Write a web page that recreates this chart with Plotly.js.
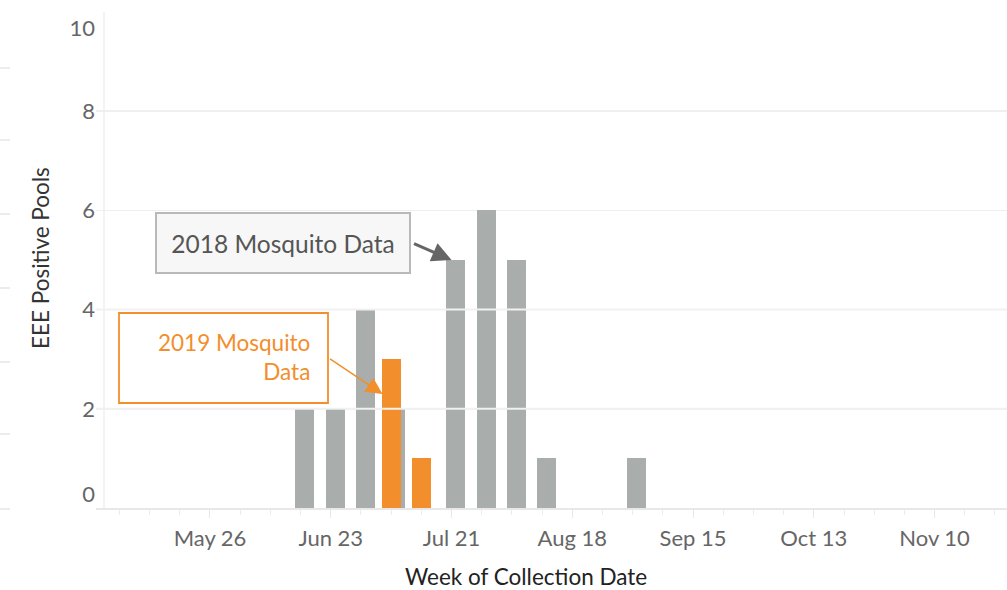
<!DOCTYPE html>
<html>
<head>
<meta charset="utf-8">
<script src="https://cdn.plot.ly/plotly-3.0.1.min.js"></script>
<style>html,body{margin:0;padding:0;background:#fff;}#chart{width:1007px;height:590px;}</style>
</head>
<body>
<div id="chart"></div>
<script>
// 2018 weekly collection dates (placed on the same month/day axis) and positive pools
const weeks2018 = ['2019-06-17','2019-06-24','2019-07-01','2019-07-08','2019-07-22','2019-07-29','2019-08-05','2019-08-12','2019-09-02'];
const pools2018 = [2, 2, 4, 2, 5, 6, 5, 1, 1];
// 2019 weekly collection dates and positive pools
const weeks2019 = ['2019-07-07','2019-07-14'];
const pools2019 = [3, 1];
// y tick labels
const yTickText = ['0','2','4','6','8','10'];

const DAY = 86400000;
const barW = 4.4 * DAY;
const FONT = 'Lato, "Open Sans", sans-serif';
const plotL = 96, plotW = 911, plotB = 508, plotH = 496;
const px = x => (x - plotL) / plotW;
const py = y => (plotB - y) / plotH;

const traces = [
  {type:'bar', x: weeks2018, y: pools2018, width: weeks2018.map(()=>barW),
   marker:{color:'#a9adac'}, hoverinfo:'skip', showlegend:false},
  {type:'bar', x: weeks2019, y: pools2019, width: weeks2019.map(()=>barW), yaxis:'y2',
   marker:{color:'#f28e2b'}, hoverinfo:'skip', showlegend:false}
];

const stubYs = [68,140,214,288,362,434,509];
const shapes = stubYs.map(y => ({type:'line', xref:'paper', yref:'paper', x0:px(0), x1:px(10), y0:py(y), y1:py(y),
  line:{color:'#ececec', width:2}}));
shapes.push({type:'line', xref:'paper', yref:'paper', x0:px(104), x1:px(104), y0:0, y1:1, line:{color:'#efefef', width:1.5}});
[2,4].forEach(v => shapes.push({type:'line', xref:'paper', yref:'y', x0:px(96), x1:1, y0:v, y1:v, layer:'above',
  line:{color:'#f1f1f1', width:2}}));
shapes.push({type:'rect', xref:'paper', yref:'paper', x0:px(119), x1:px(328), y0:py(403), y1:py(313),
  line:{color:'#f28e2b', width:1.8}, fillcolor:'#ffffff', layer:'above'});

const annotations = [
  {xref:'paper', yref:'paper', x:px(283), y:py(243.5), xanchor:'center', yanchor:'middle',
   text:'2018 Mosquito Data', showarrow:false, font:{family:FONT, size:24.5, color:'#555'},
   bgcolor:'#f7f7f7', bordercolor:'#b9b9b9', borderwidth:2, borderpad:0, width:252, height:58},
  {xref:'paper', yref:'paper', x:px(312), y:py(357), xanchor:'right', yanchor:'middle', align:'right',
   text:'2019 Mosquito<br>Data', showarrow:false, font:{family:FONT, size:22.5, color:'#f28e2b'}},
  {xref:'x', yref:'y', x:'2019-07-21', y:5, ax:-39, ay:-17, showarrow:true, arrowhead:2, arrowsize:1.3,
   arrowwidth:3, arrowcolor:'#666', standoff:0, font:{size:1}},
  {xref:'x', yref:'y', x:'2019-07-05', y:2.3, ax:-54, ay:-36, showarrow:true, arrowhead:2, arrowsize:2.2,
   arrowwidth:1.5, arrowcolor:'#f28e2b', standoff:0, font:{size:1}},
  {xref:'paper', yref:'paper', x:px(40), y:py(258), xanchor:'center', yanchor:'middle', textangle:-90, showarrow:false,
   text:'EEE Positive Pools', font:{family:FONT, size:22.5, color:'#333'}},
  {xref:'paper', yref:'paper', x:px(526), y:py(576), xanchor:'center', yanchor:'middle', showarrow:false, borderpad:0,
   text:'Week of Collection Date', font:{family:FONT, size:22.5, color:'#222'}}
];

const layout = {
  width:1007, height:590,
  margin:{l:plotL, r:0, t:12, b:82},
  paper_bgcolor:'#fff', plot_bgcolor:'#fff',
  barmode:'overlay', bargap:0,
  font:{family:FONT, color:'#666'},
  xaxis:{type:'date', range:['2019-04-29 13:40','2019-11-26 19:00'],
    tick0:'2019-05-26', dtick:28*DAY, tickformat:'%b %d',
    ticks:'outside', ticklen:8, tickcolor:'#e8e8e8', tickwidth:1, ticklabelstandoff:2,
    minor:{dtick:7*DAY, tick0:'2019-05-26', ticks:'outside', ticklen:5, tickcolor:'#ececec', showgrid:false},
    showgrid:false, showline:true, linecolor:'#e8e8e8', linewidth:1.5, zeroline:false,
    tickfont:{family:FONT, size:22, color:'#666'}, fixedrange:true},
  yaxis:{range:[0,10], dtick:2, showticklabels:false, ticks:'', showgrid:true, gridcolor:'#efefef', gridwidth:1.5,
    zeroline:false, showline:false, fixedrange:true},
  yaxis2:{range:[0,10], overlaying:'y', side:'left', tickmode:'array', tickvals:[0.28,2,4,6,8,9.68], ticktext:yTickText,
    showgrid:false, zeroline:false, showline:false, ticks:'',
    tickfont:{family:FONT, size:22, color:'#666'}, fixedrange:true},
  shapes, annotations
};

Plotly.newPlot('chart', traces, layout, {displayModeBar:false, staticPlot:true});
</script>
</body>
</html>
